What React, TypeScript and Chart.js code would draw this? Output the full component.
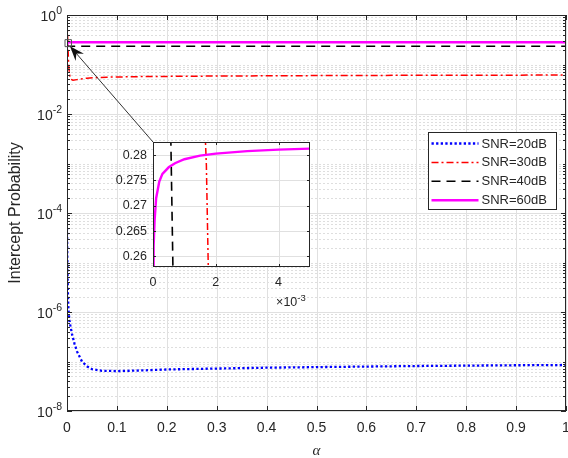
import React, { useEffect, useRef } from 'react';
import { Chart, registerables } from 'chart.js';

Chart.register(...registerables);

// ---------------- data ----------------
const seriesLabels = ['SNR=20dB', 'SNR=30dB', 'SNR=40dB', 'SNR=60dB'];

const alpha20 = [0, 0.0005, 0.001, 0.002, 0.003, 0.005, 0.01, 0.015, 0.02, 0.03, 0.04, 0.05, 0.07, 0.1, 0.15, 0.2, 0.3, 0.4, 0.5, 0.6, 0.7, 0.8, 0.9, 1];
const p20 = [5e-5, 1.5e-5, 6e-6, 2e-6, 1.1e-6, 6.5e-7, 3.6e-7, 2.3e-7, 1.6e-7, 1.0e-7, 8.0e-8, 7.0e-8, 6.5e-8, 6.4e-8, 6.6e-8, 6.9e-8, 7.2e-8, 7.5e-8, 7.7e-8, 7.9e-8, 8.1e-8, 8.25e-8, 8.4e-8, 8.5e-8];

const alpha30 = [0, 0.0005, 0.001, 0.0015, 0.0017, 0.00176, 0.002, 0.003, 0.004, 0.006, 0.008, 0.012, 0.02, 0.04, 0.08, 0.15, 0.3, 0.5, 0.7, 1];
const p30 = [0.8, 0.55, 0.42, 0.31, 0.278, 0.258, 0.22, 0.12, 0.08, 0.055, 0.05, 0.048, 0.0495, 0.053, 0.0555, 0.057, 0.0585, 0.0597, 0.0605, 0.0612];

const alpha40 = [0, 0.0002, 0.0004, 0.00055, 0.00065, 0.0008, 0.0012, 0.003, 0.1, 1];
const p40 = [0.5, 0.42, 0.34, 0.29, 0.252, 0.238, 0.234, 0.2333, 0.2333, 0.2333];

const alpha60 = [0, 0.00002, 0.00005, 0.0001, 0.0002, 0.0003, 0.0005, 0.0007, 0.001, 0.0015, 0.002, 0.003, 0.004, 0.005, 0.01, 0.1, 1];
const p60 = [0.257, 0.262, 0.267, 0.2715, 0.2748, 0.2763, 0.2776, 0.2784, 0.2792, 0.2799, 0.2803, 0.2808, 0.2811, 0.2813, 0.2816, 0.2818, 0.2818];

const xTicks = [0, 0.1, 0.2, 0.3, 0.4, 0.5, 0.6, 0.7, 0.8, 0.9, 1];
const xTickLabels = ['0', '0.1', '0.2', '0.3', '0.4', '0.5', '0.6', '0.7', '0.8', '0.9', '1'];
const yTickExps = [0, -2, -4, -6, -8];

const insetXTicks = [0, 0.002, 0.004];
const insetXTickLabels = ['0', '2', '4'];
const insetYTicks = [0.26, 0.265, 0.27, 0.275, 0.28];
const insetYTickLabels = ['0.26', '0.265', '0.27', '0.275', '0.28'];
const insetXRange = [0, 0.005];
const insetYRange = [0.2579, 0.2826];

// ---------------- layout / style ----------------
const W = 568;
const H = 458;
const FONT = '"Liberation Sans", Arial, Helvetica, sans-serif';
const TEXT = '#262626';
const AXIS = '#262626';
const MAJOR_GRID = '#e0e0e0';
const MINOR_GRID = '#dedede';

const MAIN_PAD = { left: 67, top: 15, right: 2, bottom: 47 };
const INSET_BOX = { left: 100, top: 130, width: 220, height: 185 };
const INSET_PAD = { left: 53, top: 12, right: 10, bottom: 48 };

const styles = [
  { color: '#0000ff', width: 2.3, dash: [2.3, 2.3] },
  { color: '#ff0000', width: 1.5, dash: [7, 3, 2, 3] },
  { color: '#000000', width: 1.6, dash: [9, 6] },
  { color: '#ff00ff', width: 2.4, dash: [] as number[] },
];

const toXY = (xs: number[], ys: number[]) => xs.map((x, i) => ({ x, y: ys[i] }));

function makeDatasets(clip: boolean) {
  const pairs = [
    [alpha20, p20],
    [alpha30, p30],
    [alpha40, p40],
    [alpha60, p60],
  ];
  return pairs.map(([xs, ys], i) => ({
    label: seriesLabels[i],
    data: toXY(xs, ys),
    borderColor: styles[i].color,
    backgroundColor: styles[i].color,
    borderWidth: styles[i].width,
    borderDash: styles[i].dash,
    pointRadius: 0,
    fill: false,
    tension: 0,
    order: 4 - i,
    ...(clip ? { clip: 0 } : {}),
  }));
}

function drawPow(ctx: CanvasRenderingContext2D, base: string, exp: string, xRight: number, yc: number, bs: number, es: number) {
  ctx.font = `${bs}px ${FONT}`;
  const bw = ctx.measureText(base).width;
  ctx.font = `${es}px ${FONT}`;
  const ew = ctx.measureText(exp).width;
  const x0 = xRight - bw - ew;
  ctx.textAlign = 'left';
  ctx.textBaseline = 'middle';
  ctx.font = `${bs}px ${FONT}`;
  ctx.fillText(base, x0, yc + 2);
  ctx.font = `${es}px ${FONT}`;
  ctx.fillText(exp, x0 + bw, yc - 4);
}

const mainPlugin = {
  id: 'mainDecor',
  beforeDatasetsDraw(chart: any) {
    const ctx: CanvasRenderingContext2D = chart.ctx;
    const { left, right, top, bottom } = chart.chartArea;
    const xs = chart.scales.x;
    const ys = chart.scales.y;
    ctx.save();
    ctx.fillStyle = '#ffffff';
    ctx.fillRect(left, top, right - left, bottom - top);
    // minor grid (dotted)
    ctx.strokeStyle = MINOR_GRID;
    ctx.lineWidth = 1;
    ctx.setLineDash([2, 2]);
    for (let k = -8; k < 0; k++) {
      for (let m = 1; m <= 9; m++) {
        if (m === 1 && k % 2 === 0) continue;
        const y = Math.round(ys.getPixelForValue(m * Math.pow(10, k))) + 0.5;
        ctx.beginPath();
        ctx.moveTo(left, y);
        ctx.lineTo(right, y);
        ctx.stroke();
      }
    }
    ctx.setLineDash([]);
    ctx.strokeStyle = MAJOR_GRID;
    for (const e of yTickExps) {
      const y = Math.round(ys.getPixelForValue(Math.pow(10, e))) + 0.5;
      ctx.beginPath();
      ctx.moveTo(left, y);
      ctx.lineTo(right, y);
      ctx.stroke();
    }
    for (const t of xTicks) {
      const x = Math.round(xs.getPixelForValue(t)) + 0.5;
      ctx.beginPath();
      ctx.moveTo(x, top);
      ctx.lineTo(x, bottom);
      ctx.stroke();
    }
    ctx.restore();
  },
  afterDatasetsDraw(chart: any) {
    const ctx: CanvasRenderingContext2D = chart.ctx;
    const { left, right, top, bottom } = chart.chartArea;
    const xs = chart.scales.x;
    const ys = chart.scales.y;
    ctx.save();
    // box
    ctx.strokeStyle = AXIS;
    ctx.lineWidth = 1;
    ctx.setLineDash([]);
    ctx.strokeRect(Math.round(left) + 0.5, Math.round(top) + 0.5, Math.round(right - left) - 1, Math.round(bottom - top) - 1);
    // x ticks
    ctx.beginPath();
    for (const t of xTicks) {
      const x = Math.round(xs.getPixelForValue(t)) + 0.5;
      ctx.moveTo(x, bottom);
      ctx.lineTo(x, bottom - 5);
      ctx.moveTo(x, top);
      ctx.lineTo(x, top + 5);
    }
    // y ticks
    for (let k = -8; k <= 0; k++) {
      for (let m = 1; m <= 9; m++) {
        if (k === 0 && m > 1) continue;
        const v = m * Math.pow(10, k);
        const y = Math.round(ys.getPixelForValue(v)) + 0.5;
        const len = m === 1 && k % 2 === 0 ? 5 : 3;
        ctx.moveTo(left, y);
        ctx.lineTo(left + len, y);
        ctx.moveTo(right, y);
        ctx.lineTo(right - len, y);
      }
    }
    ctx.stroke();
    // tick labels
    ctx.fillStyle = TEXT;
    ctx.font = `14px ${FONT}`;
    ctx.textAlign = 'center';
    ctx.textBaseline = 'middle';
    xTicks.forEach((t, i) => {
      ctx.fillText(xTickLabels[i], xs.getPixelForValue(t), bottom + 17);
    });
    for (const e of yTickExps) {
      drawPow(ctx, '10', String(e), left - 5, ys.getPixelForValue(Math.pow(10, e)), 14, 10.5);
    }
    // axis titles
    ctx.font = `italic 15px "Liberation Serif", "DejaVu Serif", serif`;
    ctx.textAlign = 'center';
    ctx.textBaseline = 'middle';
    ctx.fillText('α', (left + right) / 2, bottom + 40);
    ctx.save();
    ctx.translate(16, (top + bottom) / 2);
    ctx.rotate(-Math.PI / 2);
    ctx.font = `16px ${FONT}`;
    ctx.fillText('Intercept Probability', 0, 0);
    ctx.restore();

    // zoom marker and arrow
    const rx0 = xs.getPixelForValue(insetXRange[0]);
    const rx1 = xs.getPixelForValue(insetXRange[1]);
    const ry0 = ys.getPixelForValue(insetYRange[0]);
    const ry1 = ys.getPixelForValue(insetYRange[1]);
    ctx.strokeStyle = '#555555';
    ctx.lineWidth = 1;
    ctx.beginPath();
    ctx.rect(rx0 - 2, ry1 - 2.5, rx1 - rx0 + 4, ry0 - ry1 + 5);
    ctx.stroke();
    const tipX = rx1 + 0.5;
    const tipY = ry0 + 2;
    const tailX = INSET_BOX.left + INSET_PAD.left;
    const tailY = INSET_BOX.top + INSET_PAD.top;
    const dx = tailX - tipX;
    const dy = tailY - tipY;
    const len = Math.hypot(dx, dy);
    const ux = dx / len;
    const uy = dy / len;
    const px = -uy;
    const py = ux;
    const L = 15;
    const w = 5.5;
    ctx.strokeStyle = '#333333';
    ctx.beginPath();
    ctx.moveTo(tipX + ux * L * 0.6, tipY + uy * L * 0.6);
    ctx.lineTo(tailX, tailY);
    ctx.stroke();
    ctx.fillStyle = '#111111';
    ctx.beginPath();
    ctx.moveTo(tipX, tipY);
    ctx.lineTo(tipX + ux * L + px * w, tipY + uy * L + py * w);
    ctx.lineTo(tipX + ux * L * 0.65, tipY + uy * L * 0.65);
    ctx.lineTo(tipX + ux * L - px * w, tipY + uy * L - py * w);
    ctx.closePath();
    ctx.fill();

    // legend
    const lx = 428.5;
    const ly = 132.5;
    const lw = 128;
    const lh = 77;
    ctx.fillStyle = '#ffffff';
    ctx.fillRect(lx, ly, lw, lh);
    ctx.strokeStyle = AXIS;
    ctx.lineWidth = 1;
    ctx.strokeRect(lx, ly, lw, lh);
    chart.data.datasets.forEach((ds: any, i: number) => {
      const yy = ly + 11 + i * 18.9;
      ctx.strokeStyle = ds.borderColor;
      ctx.lineWidth = ds.borderWidth;
      ctx.setLineDash(ds.borderDash || []);
      ctx.beginPath();
      ctx.moveTo(lx + 3, yy);
      ctx.lineTo(lx + 50, yy);
      ctx.stroke();
      ctx.setLineDash([]);
      ctx.fillStyle = TEXT;
      ctx.font = `13px ${FONT}`;
      ctx.textAlign = 'left';
      ctx.textBaseline = 'middle';
      ctx.fillText(ds.label, lx + 53, yy + 0.5);
    });
    ctx.restore();
  },
};

const insetPlugin = {
  id: 'insetDecor',
  beforeDatasetsDraw(chart: any) {
    const ctx: CanvasRenderingContext2D = chart.ctx;
    const { left, right, top, bottom } = chart.chartArea;
    const xs = chart.scales.x;
    const ys = chart.scales.y;
    ctx.save();
    ctx.fillStyle = '#ffffff';
    ctx.fillRect(left, top, right - left, bottom - top);
    ctx.strokeStyle = MAJOR_GRID;
    ctx.lineWidth = 1;
    for (const t of insetXTicks) {
      const x = Math.round(xs.getPixelForValue(t)) + 0.5;
      ctx.beginPath();
      ctx.moveTo(x, top);
      ctx.lineTo(x, bottom);
      ctx.stroke();
    }
    for (const t of insetYTicks) {
      const y = Math.round(ys.getPixelForValue(t)) + 0.5;
      ctx.beginPath();
      ctx.moveTo(left, y);
      ctx.lineTo(right, y);
      ctx.stroke();
    }
    ctx.restore();
  },
  afterDatasetsDraw(chart: any) {
    const ctx: CanvasRenderingContext2D = chart.ctx;
    const { left, right, top, bottom } = chart.chartArea;
    const xs = chart.scales.x;
    const ys = chart.scales.y;
    ctx.save();
    ctx.strokeStyle = AXIS;
    ctx.lineWidth = 1;
    ctx.strokeRect(Math.round(left) + 0.5, Math.round(top) + 0.5, Math.round(right - left) - 1, Math.round(bottom - top) - 1);
    ctx.beginPath();
    for (const t of insetXTicks) {
      const x = Math.round(xs.getPixelForValue(t)) + 0.5;
      ctx.moveTo(x, bottom);
      ctx.lineTo(x, bottom - 3);
      ctx.moveTo(x, top);
      ctx.lineTo(x, top + 3);
    }
    for (const t of insetYTicks) {
      const y = Math.round(ys.getPixelForValue(t)) + 0.5;
      ctx.moveTo(left, y);
      ctx.lineTo(left + 3, y);
      ctx.moveTo(right, y);
      ctx.lineTo(right - 3, y);
    }
    ctx.stroke();
    ctx.fillStyle = TEXT;
    ctx.font = `12.5px ${FONT}`;
    ctx.textBaseline = 'middle';
    ctx.textAlign = 'center';
    insetXTicks.forEach((t, i) => {
      ctx.fillText(insetXTickLabels[i], xs.getPixelForValue(t), bottom + 16);
    });
    ctx.textAlign = 'right';
    insetYTicks.forEach((t, i) => {
      ctx.fillText(insetYTickLabels[i], left - 6, ys.getPixelForValue(t));
    });
    // exponent label
    ctx.textAlign = 'left';
    ctx.font = `12.5px ${FONT}`;
    const bx = xs.getPixelForValue(0.00392);
    const by = bottom + 36;
    ctx.fillText('×10', bx, by);
    const bw = ctx.measureText('×10').width;
    ctx.font = `9.5px ${FONT}`;
    ctx.fillText('-3', bx + bw, by - 5);
    ctx.restore();
  },
};

export default function App() {
  const mainRef = useRef<HTMLCanvasElement | null>(null);
  const insetRef = useRef<HTMLCanvasElement | null>(null);

  useEffect(() => {
    if (!mainRef.current || !insetRef.current) return;
    const main = new Chart(mainRef.current, {
      type: 'line',
      data: { datasets: makeDatasets(false) as any },
      options: {
        responsive: false,
        animation: false,
        events: [],
        layout: { padding: MAIN_PAD },
        plugins: { legend: { display: false }, tooltip: { enabled: false } },
        scales: {
          x: { type: 'linear', min: 0, max: 1, display: false },
          y: { type: 'logarithmic', min: 1e-8, max: 1, display: false },
        },
      },
      plugins: [mainPlugin],
    });
    const inset = new Chart(insetRef.current, {
      type: 'line',
      data: { datasets: makeDatasets(true) as any },
      options: {
        responsive: false,
        animation: false,
        events: [],
        layout: { padding: INSET_PAD },
        plugins: { legend: { display: false }, tooltip: { enabled: false } },
        scales: {
          x: { type: 'linear', min: insetXRange[0], max: insetXRange[1], display: false },
          y: { type: 'linear', min: insetYRange[0], max: insetYRange[1], display: false },
        },
      },
      plugins: [insetPlugin],
    });
    return () => {
      main.destroy();
      inset.destroy();
    };
  }, []);

  return (
    <div style={{ position: 'fixed', left: 0, top: 0, width: W, height: H, background: '#ffffff' }}>
      <canvas ref={mainRef} width={W} height={H} style={{ position: 'absolute', left: 0, top: 0, width: W, height: H }} />
      <canvas
        ref={insetRef}
        width={INSET_BOX.width}
        height={INSET_BOX.height}
        style={{ position: 'absolute', left: INSET_BOX.left, top: INSET_BOX.top, width: INSET_BOX.width, height: INSET_BOX.height, pointerEvents: 'none' }}
      />
    </div>
  );
}
